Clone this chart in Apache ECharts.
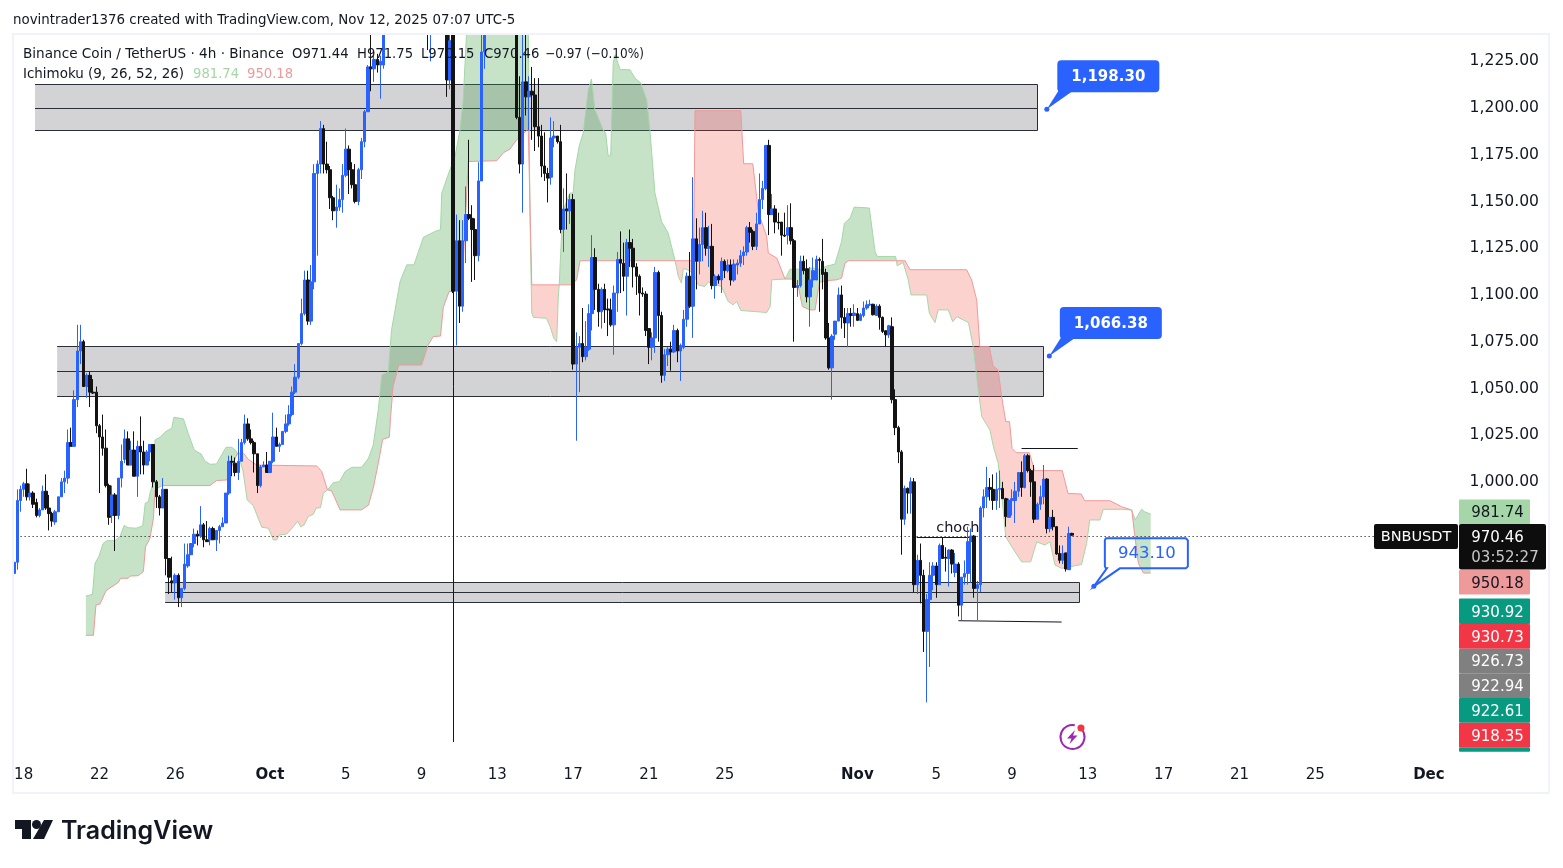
<!DOCTYPE html>
<html>
<head>
<meta charset="utf-8">
<title>BNBUSDT 4h</title>
<script src="https://cdn.jsdelivr.net/npm/echarts@6/dist/echarts.min.js"></script>
<style>
html, body { margin: 0; padding: 0; background: #fff; }
#chart { width: 1563px; height: 868px; }
</style>
</head>
<body>
<div id="chart"></div>
<script>
// candles, oldest first. bars 118-136 and 150-158 sit above the visible range
var opens = [
	950,956,989,995,998,991,993,988,981,984,
	994,985,982,977.5,983,991,999,1001,1020,1018,
	1043,1069,1074,1050,1056,1047,1047,1029,1023,1017,
	997,981,992,981,1001,1011,1022,1008,1016,1002,
	1018,1015,1008,1015,1019,999,991,985,995,958,
	946,945,949,937,942,954,960,966,971,970,
	976,968,968,974,968,973,975,977,993,1010,
	1009,1004,1010,1020,1030,1022,1020,1014,997,1007,
	1008,1004,1010,1023,1018,1019,1026,1030,1035,1047,
	1055,1073,1089,1107,1085,1106,1164,1169,1188,1169,
	1166,1151,1144,1146,1150,1163,1177,1166,1158,1149,
	1166,1181,1197,1221,1220,1225,1222,1222,1242,1262,
	1275,1284,1278,1295,1306,1299,1286,1292,1281,1268,
	1276,1265,1248,1266,1283,1298,1290,1270,1214,1240,
	1101,1128,1093,1128,1142,1140,1134,1120,1160,1229,
	1250,1268,1262,1272,1284,1276,1264,1273,1260,1250,
	1194,1169,1213,1205,1208,1206,1189,1184,1168,1164,
	1162,1183,1184,1181,1134,1145,1144,1150,1062,1071,
	1073,1066,1070,1089,1119,1102,1090,1102,1091.5,1091,
	1083,1100,1118,1116,1109,1127,1124,1114,1109,1100,
	1099.5,1081,1071,1076,1111,1088,1056,1067,1070,1068.5,
	1080,1069,1071,1086,1109,1093,1129,1117,1126,1135,
	1124,1125,1104,1109,1107,1117,1112,1115,1107,1115,
	1116,1120,1122,1135,1133,1125,1137,1150,1156,1179,
	1142,1145,1138,1138,1131,1131,1135,1128,1103,1104,
	1117,1113,1098,1107,1107,1118,1117,1111,1076,1060,
	1078,1085,1099,1087,1084,1089,1088,1089,1085.4,1088,
	1092,1093.7,1094,1088,1093,1087,1079.8,1077.7,1082,1043,
	1028,1015,979,995.5,993,999,944,957,949,919,
	936,949,954,944,965,958.6,958,962.5,950.5,955,
	933,948,950,967,970,942,944,985,991,996,
	995,989,995,995.5,990,980,989,989,994,1004,
	996,1013,1005,999,979,987,991,1000.5,974,980,
	975,960.7,957,961,952,971.44
];
var highs = [
	962,995,997,999,1006,998,994,990,985,997,
	1003,992,983,984,991,1001,1005,1027,1028,1048,
	1083,1083,1075,1057,1058,1054,1050,1030,1035,1027,
	998,997,993,1001,1019,1027,1026,1021,1026,1021,
	1034,1021,1016,1019,1019,1000,992,1001,995,958,
	959,950,950,942,966,966,966,974,973,986,
	977,978,975,975,973,976,980,993,1013,1013,
	1012,1022,1022,1035,1033,1027,1021,1014,1008,1010,
	1015,1010,1036,1028,1020,1026,1035,1040,1050,1062,
	1073,1097,1112,1112,1115,1169,1171,1192,1190,1181,
	1168,1152,1158,1156,1169,1188,1179,1170,1169,1167,
	1183,1198,1222,1241,1227,1228,1227,1250,1268,1281,
	1290,1296,1302,1312,1318,1310,1298,1304,1294,1284,
	1288,1280,1272,1290,1306,1318,1304,1282,1262,1262,
	1142,1139,1139,1157,1182,1147,1140,1170,1241,1260,
	1275,1285,1278,1290,1296,1288,1280,1286,1274,1265,
	1216,1239,1239,1216,1221,1215,1215,1190,1186,1167,
	1194,1192,1184,1190,1156,1164,1153,1153,1079,1077,
	1092,1085,1094,1131,1124,1105,1103,1105,1097,1097,
	1104,1122,1133,1127,1129,1134,1129,1116,1110,1103,
	1101,1081,1079,1114,1112,1090,1070,1071,1074,1083,
	1081,1073,1091,1111,1122,1162,1140,1135,1144,1143,
	1136,1137,1110,1110,1119,1118,1118,1118,1118,1118,
	1123,1125,1136,1138,1134,1143,1164,1160,1179,1182,
	1153,1147,1143,1138,1143,1147,1148,1129,1107,1120,
	1120,1118,1114,1119,1120,1119,1129,1113,1084,1078,
	1085,1103,1104,1092,1092,1092,1094,1092,1089.3,1095.5,
	1096,1096.4,1094.3,1094,1094,1087.5,1080,1083,1087,1048.5,
	1029,1016,997,996,1001.4,1001,960,966,952,939,
	956,956,956,966,969,964,963,963,961,956,
	948,957,975,974,970.5,946,986,995,1007,1001,
	1003,1004,1005,999,990.5,990,995,999,1004,1010,
	1014,1014,1006,1008,988,997,1008,1001,980,984,
	975.4,965,965,961,975,971.75
];
var lows = [
	946,952,983,991,989,989,985,980,980,984,
	984,973,975,976,983,991,993,998,1018,1018,
	1039,1062,1050,1044,1039,1046,1025,993,1013,996,
	976,977,962,979,996,1009,1008,1008,1002,991,
	1003,1003,1008,1010,996,985,981,985,949,939,
	940,936,932,932,941,953,960,964,965,969,
	964,967,965,968,962,966,975,977,992,1002,
	1002,1000,1010,1019,1021,1019,1004,993,996,1007,
	1004,1004,1009,1018,1015,1019,1025,1029,1034,1046,
	1054,1072,1088,1083,1083,1102,1120,1164,1164,1164,
	1145,1139,1135,1144,1143,1162,1153,1156,1148,1147,
	1161,1178,1197,1208,1213,1218,1204,1220,1241,1255,
	1268,1272,1270,1288,1292,1280,1270,1276,1262,1256,
	1262,1230,1224,1258,1275,1285,1262,1205,1209,1100,
	1072,1084,1090,1116,1139,1106,1107,1117,1160,1220,
	1243,1258,1250,1262,1268,1258,1250,1256,1243,1193,
	1164,1143,1195,1187,1182,1176,1178,1162,1160,1148.5,
	1158,1178,1180,1132,1122,1134,1137,1059,1021,1047,
	1063,1064,1069,1080,1091,1082,1081,1084,1077,1082,
	1067,1090,1100,1101,1088,1114,1103,1099,1088,1098,
	1077,1062,1064,1068,1074,1052,1053,1061,1058.5,1068,
	1063,1053,1070,1082,1092,1076,1102,1110,1117,1120,
	1114,1102,1097,1105,1100,1108,1111,1104,1106,1110,
	1114,1115,1120,1127,1123,1123,1137,1145,1155,1131,
	1142,1132,1134,1120,1130,1126,1126,1074,1098,1103,
	1110,1095,1082,1103,1107,1090,1102,1075,1059,1043,
	1075,1085,1081,1076,1071,1082,1082,1085,1085,1087,
	1091,1093,1088,1088,1080.4,1078.6,1071.4,1076,1041,1024,
	1009,960,976,982,982,940,939,934,908,881,
	900,941,937,944,958,951,943,950,948,927,
	925,944,944,945,937,925,940,980,985,989,
	984,984,985,990,975,980,981,977,991,991,
	995.5,1004,991,977,979,984,987,971.4,972,973,
	960,955.4,955,951,952,970.15
];
var closes = [
	956,989,995,998,991,993,987,981,984,994,
	985,982,978,983,991,999,1001,1020,1018,1043,
	1069,1074,1050,1056,1047,1046.5,1029,1023,1017,997,
	980,992,981,1001,1010,1022,1008,1016,1002,1018,
	1015,1008,1015,1019,999,991,985,995,958,948,
	945,949,937,942,955,960,966,971,970,976,
	968,967,974,968,973,975,977,993,1010,1009.5,
	1004,1010,1020,1030,1022,1020,1014,997,1007,1008,
	1004,1010,1023,1018,1019,1026,1030,1035,1047,1055,
	1073,1089,1107,1085,1106,1164,1169,1188,1169,1166,
	1151,1144,1146,1150,1163,1177,1166,1158,1149,1166,
	1181,1197,1221,1220,1225,1222,1224,1240,1262,1275,
	1284,1278,1295,1306,1299,1286,1292,1281,1268,1276,
	1265,1248,1266,1283,1298,1290,1270,1214,1235,1101,
	1128,1093,1128,1142,1140,1134,1120,1160,1229,1250,
	1268,1262,1272,1284,1276,1264,1273,1260,1250,1194,
	1169,1213,1205,1208,1206,1189,1184,1168,1164,1161.5,
	1183,1184,1181,1134,1145,1144,1150,1062,1071,1073,
	1066,1071,1089,1119,1102,1090,1102,1091,1091,1083,
	1100,1118,1116,1109,1127,1124,1114,1109,1100,1099.5,
	1080,1071,1076,1111,1088,1056,1067,1070,1068.5,1080,
	1069,1072,1086,1109,1093,1129,1117,1126,1135,1124,
	1125,1104,1109,1107,1117,1112,1115,1107,1115.5,1116,
	1120,1122,1135,1132.5,1125,1137,1150,1156,1179,1142,
	1145,1138,1137.5,1131,1130.5,1135,1128,1103,1104,1117,
	1112,1098,1107,1112,1118,1117.5,1110,1076,1060,1077,
	1085,1099,1087,1084,1089,1088,1089.3,1085.4,1088.4,1092,
	1093.7,1094,1088.4,1093,1087,1079.5,1077.7,1082.5,1043,1028,
	1015,979,995.5,993,999,944,957,949,919,936,
	949,954,944,965,958,958.2,962.5,955,955,933,
	948,950,967,970,942,944,985,991,996,995,
	989,995,995.5,990,980.4,989,990,994,1004,996,
	1013,1005,999,979,987,991,1000.5,974,980,975,
	960.4,957,960.7,952.4,971.4,970.46
];

// ichimoku span A and span B as [bar, price] vertices. the stretch of span A
// above the view (bars 144-162) is a guess
var senkouA = [
	[22.7,937.9],[24.8,938.8],[25.6,955.4],[26.8,959],[28.2,966.1],[29.3,967.5],[31.9,967.5],[33.5,969.7],[34.8,975.6],[36.1,974.5],
	[38.6,974.2],[40.7,975.4],[41.5,987.5],[42.5,988.4],[43,992.9],[44.1,999.1],[44.6,1021.4],[46.2,1022.9],[48,1025.9],[49.9,1027.7],
	[50.6,1033.6],[53.6,1032.7],[55.1,1025],[57,1016.1],[59.2,1013.9],[60.4,1010.2],[62,1008.4],[64.1,1008.6],[65.7,1013.4],[67.1,1017.5],
	[68.9,1017.5],[70.2,1015.7],[70.7,1014.3],[72.4,1005.4],[73.8,989.3],[75.7,986.3],[78.4,974.7],[80.5,974.2],[82.1,967.9],[83.1,967.9],
	[84,970.6],[86.3,971.1],[88.4,975],[89.8,978],[90.7,975],[91.8,975.9],[93.1,980.4],[94.7,981.6],[95.6,984.9],[97,985.2],
	[97.9,992.9],[99.2,994.7],[101.1,998.6],[103,999.1],[104.8,1004.5],[106.9,1006.8],[110,1006.8],[112.2,1011.6],[113.7,1018.8],[115.3,1037.5],
	[116.4,1056.2],[118.5,1058],[119,1069.6],[119.5,1080.3],[122.2,1106.2],[124.3,1115.1],[126.6,1115.1],[129.6,1129.9],[133.3,1133],[135,1133.9],
	[135.4,1153.5],[138,1166],[139.6,1173.1],[141.2,1187.4],[142.2,1203.4],[143.3,1240.9],[144.4,1285],[155,1310],[162,1290],[162.8,1240.9],
	[163.1,1187.5],[163.3,1144.6],[163.9,1089.3],[164.4,1087],[168.6,1086.5],[169.7,1082.1],[170.9,1075.8],[171.8,1074],[172.3,1098],[172.6,1104.4],
	[173.4,1133.9],[173.9,1144.6],[176,1153.5],[177,1153.5],[177.6,1166],[178.9,1178.5],[180.2,1185.6],[181.8,1208.8],[182.8,1214.5],[183.9,1198.1],
	[186.5,1187.4],[187.3,1185.6],[188.1,1173.5],[188.9,1173.5],[189.7,1223],[190.3,1227.5],[191.9,1219.5],[195,1219.5],[196.6,1215],[198.4,1212.4],
	[200.3,1203.4],[201.3,1187.4],[202.9,1153.5],[205,1138.3],[207.1,1132.1],[209.3,1117.3],[210.3,1108.9],[211.3,1105.3],[211.9,1113.3],[213.1,1112.5],
	[215.1,1110.7],[216.6,1104.4],[218.7,1103.5],[219.8,1105.9],[224,1103.5],[226.1,1095.5],[227.7,1093.7],[228.8,1095.5],[230.1,1090.7],[238.3,1089.6],
	[239.4,1092.8],[239.9,1107.1],[244.1,1107.5],[245.7,1112.8],[248.3,1112.8],[253,1113.4],[255.2,1112.5],[257,1114.3],[259.9,1115.5],[262,1127.6],
	[262.9,1137.4],[264.7,1140.1],[266,1146],[270.8,1145.5],[272.6,1122.3],[273.3,1119.6],[279.1,1119.6],[279.4,1117.3],[279.6,1114.6],[281.5,1116.4],
	[283.1,1107.1],[284,1099],[289,1099],[289.8,1089.2],[291.6,1084.2],[292.6,1091],[295.8,1091],[297.2,1084.7],[298.5,1087.4],[302.2,1084.2],
	[303.7,1071.3],[305.3,1048.1],[306.4,1033.9],[309,1026.7],[310.1,1017.8],[311.6,1008.9],[312.7,992.8],[314,969.6],[315.9,964.3],[319,956.2],
	[321.9,956.2],[323.8,966.9],[326.4,965.2],[328,966.9],[329.6,954.5],[331.7,952.7],[338,954.8],[339.6,966.1],[340.6,978.6],[343.8,978.6],
	[344.9,984.3],[350.7,984.3],[353.9,983.9],[355,978.6],[357,984.3],[358,983],[359.9,981.74]
];
var senkouB = [
	[22.7,916.9],[25.1,916.9],[25.9,933.1],[27.2,933.7],[29.1,940.8],[33,945.2],[33.7,947.4],[36.1,947.4],[36.7,948.6],[39.3,948.8],
	[40.9,951],[41.6,964.3],[43,968.8],[44.1,979.5],[44.6,994.7],[46.7,997],[62,997],[64.1,999.7],[67.3,1000],[68.9,1007.2],
	[70.7,1014.3],[72.6,1014.3],[74.1,1011.1],[76.8,1008],[95.8,1007.5],[97.4,1004.5],[99.2,994.7],[100.5,994.3],[103.2,984],[110,984],
	[112.2,986.6],[113.7,995.6],[115.3,1008.9],[116.7,1021.8],[118.8,1022.9],[119.2,1033.9],[120,1050],[121.8,1061.5],[129,1061.5],[131.1,1072.3],
	[132.7,1076.7],[135,1077],[135.9,1092.4],[137.7,1100.8],[139.6,1101.2],[142.2,1116],[143.8,1170.4],[152.8,1170.8],[155,1175.2],[157,1177],
	[159.1,1182],[162.8,1187.7],[163.1,1187.5],[163.9,1104.4],[172.6,1104.4],[176.5,1104.4],[178.1,1107.1],[179.2,1117.3],[209.3,1117.3],[215.1,1117.3],
	[215.4,1161.5],[215.6,1197.6],[230.1,1197.6],[231,1169.2],[233.9,1169.2],[235.7,1142.8],[238.3,1130.3],[238.8,1121.4],[241.5,1118.7],[244.1,1107.5],
	[246.7,1107.5],[248.3,1103.6],[249.6,1092.8],[252,1091],[253.6,1091],[255,1105.7],[257,1106.6],[260.5,1107.1],[262,1108],[263.1,1116],
	[264.1,1117.3],[279.4,1117.3],[282.1,1117.3],[283.7,1112.5],[301.6,1112.5],[303.2,1107],[304.8,1096.3],[305.8,1071.3],[308.8,1071.3],[310,1061],
	[311.6,1058.8],[312.7,1044.6],[314,1031.2],[315.2,1031.2],[316,1016.9],[317.3,1014.6],[321.5,1014.6],[323.1,1005],[331.9,1005],[333.7,992.8],
	[337.9,992.5],[339,988.9],[347,988.9],[350.7,985.7],[353.9,983.9],[354.9,969.6],[356,955.4],[357.6,950.18],[359.9,950.18]
];
// bullish = span A on top
var kumoRuns = [
	[22.7,70.7,'up'],[70.7,99.2,'down'],[99.2,163.1,'up'],[163.1,172.6,'down'],[172.6,209.3,'up'],
	[209.3,244.1,'down'],[244.1,279.4,'up'],[279.4,353.9,'down'],[353.9,359.9,'up']
];

// drawn boxes: first bar, last bar, top, middle, bottom
var zoneStart = [6.6, 13.6, 47.8];
var zoneEnd = [324.2, 325.8, 337.2];
var zoneTop = [1211.5, 1071.2, 945.4];
var zoneMid = [1199, 1057.8, 940];
var zoneBottom = [1186.8, 1044.4, 934.2];

// drawn lines: bar, price, bar, price
var drawnLines = [
	[139.07,1240,139.07,859.8],
	[285.8,969.3,304.2,969.3],
	[319,1017,336.8,1017],
	[299,924.7,331.7,924]
];
var lastLine = [[-0.5,969.77],[431,969.77]];

var calloutBars = [327, 327.8, 341.9];
var calloutPrices = [1198.30, 1066.38, 943.10];
var calloutTexts = ['1,198.30', '1,066.38', '943.10'];
var textNotes = [[298.8, 974.3, 'choch']];

var tickBars = [3,27,51,81,105,129,153,177,201,225,267,292,316,340,364,388,412,448];
var tickLabels = ['18','22','26','Oct','5','9','13','17','21','25','Nov','5','9','13','17','21','25','Dec'];

var tagValues = ['981.74','950.18','930.92','930.73','926.73','922.94','922.61','918.35'];
var tagColors = ['#A5D6A7','#EF9A9A','#089981','#F23645','#808080','#808080','#089981','#F23645'];
var tagInk = ['#131722','#131722','#fff','#fff','#fff','#fff','#fff','#fff'];
var tagTops = [499.5,570,598.5,624,648.7,673.3,698,722.7];
var tagHeights = [25,24.5,25.5,24.7,24.6,24.7,24.7,25];

var FONT = '"DejaVu Sans", sans-serif';
var INK = '#131722';
var BLUE = '#2962FF';

var barSlots = [];
for (var n = 0; n < 456; n++) barSlots.push(String(n));

function snap(v) {
	return Math.round(v - 0.5) + 0.5;
}

function renderZone(params, api) {
	var i = params.dataIndex;
	var tl = api.coord([zoneStart[i], zoneTop[i]]);
	var br = api.coord([zoneEnd[i], zoneBottom[i]]);
	var my = snap(api.coord([zoneStart[i], zoneMid[i]])[1]);
	var top = snap(tl[1]), bottom = snap(br[1]), right = snap(br[0]);
	var line = {stroke: '#2a2e39', lineWidth: 1};
	return {
		type: 'group',
		children: [
			{type: 'rect', shape: {x: tl[0], y: top, width: right - tl[0], height: bottom - top}, style: {fill: '#d3d3d6'}},
			{type: 'line', shape: {x1: tl[0], y1: top, x2: right, y2: top}, style: line},
			{type: 'line', shape: {x1: tl[0], y1: my, x2: right, y2: my}, style: line},
			{type: 'line', shape: {x1: tl[0], y1: bottom, x2: right, y2: bottom}, style: line},
			{type: 'line', shape: {x1: right, y1: top, x2: right, y2: bottom}, style: line}
		]
	};
}

function renderKumo(params, api) {
	var run = kumoRuns[params.dataIndex];
	var inRun = function (p) { return p[0] >= run[0] && p[0] <= run[1]; };
	var pts = senkouA.filter(inRun).concat(senkouB.filter(inRun).reverse()).map(function (p) {
		return api.coord(p);
	});
	return {
		type: 'polygon',
		shape: {points: pts},
		style: {fill: run[2] === 'up' ? 'rgba(67,160,71,0.3)' : 'rgba(244,67,54,0.24)'}
	};
}

function renderDrawnLine(params, api) {
	var l = drawnLines[params.dataIndex];
	var a = api.coord([l[0], l[1]]);
	var b = api.coord([l[2], l[3]]);
	var x1 = l[0] === l[2] ? snap(a[0]) : a[0];
	var x2 = l[0] === l[2] ? snap(b[0]) : b[0];
	var y1 = l[1] === l[3] ? snap(a[1]) : a[1];
	var y2 = l[1] === l[3] ? snap(b[1]) : b[1];
	return {type: 'line', shape: {x1: x1, y1: y1, x2: x2, y2: y2}, style: {stroke: '#131722', lineWidth: 1}};
}

function renderNote(params, api) {
	var t = textNotes[params.dataIndex];
	var c = api.coord([t[0], t[1]]);
	return {type: 'text', style: {x: c[0], y: c[1], text: t[2], font: '14.5px ' + FONT, fill: INK, align: 'center', verticalAlign: 'middle'}};
}

function renderCallout(params, api) {
	var i = params.dataIndex;
	var c = api.coord([calloutBars[i], calloutPrices[i]]);
	var x = c[0], y = c[1];
	var dot = {type: 'circle', shape: {cx: x, cy: y, r: 2.5}, style: {fill: BLUE}};
	if (i < 2) {
		return {type: 'group', children: [
			{type: 'polygon', shape: {points: [[x + 12, y - 19], [x + 27, y - 19], [x, y]]}, style: {fill: BLUE}},
			{type: 'rect', shape: {x: x + 10.5, y: y - 49, width: 102, height: 32, r: 4}, style: {fill: BLUE}},
			dot,
			{type: 'text', style: {x: x + 61.5, y: y - 32, text: calloutTexts[i], font: 'bold 15px ' + FONT, fill: '#fff', align: 'center', verticalAlign: 'middle'}}
		]};
	}
	return {type: 'group', children: [
		{type: 'polygon', shape: {points: [
			[x + 12, y - 48], [x + 92, y - 48], [x + 94, y - 46], [x + 94, y - 20], [x + 92, y - 18],
			[x + 26, y - 18], [x, y], [x + 13, y - 18], [x + 12, y - 18], [x + 11, y - 20], [x + 11, y - 46]
		]}, style: {fill: 'none', stroke: BLUE, lineWidth: 2}},
		dot,
		{type: 'text', style: {x: x + 53, y: y - 33, text: calloutTexts[i], font: '16.5px ' + FONT, fill: BLUE, align: 'center', verticalAlign: 'middle'}}
	]};
}

function indexList(arr) {
	return arr.map(function (v, i) { return [i, 0]; });
}

function overlay(renderItem, source, z, clip) {
	return {
		type: 'custom',
		xAxisIndex: 1,
		renderItem: renderItem,
		data: indexList(source),
		clip: clip,
		silent: true,
		z: z
	};
}

function tags() {
	var out = [];
	tagValues.forEach(function (v, i) {
		out.push({type: 'rect', z: 110, shape: {x: 1459, y: tagTops[i], width: 71, height: tagHeights[i], r: 1}, style: {fill: tagColors[i]}});
		out.push(label(1497.5, tagTops[i] + tagHeights[i] / 2 + 0.2, v, '15px ' + FONT, tagInk[i], 'center'));
	});
	return out;
}

function label(x, y, text, font, fill, align) {
	return {type: 'text', z: 111, style: {x: x, y: y + 1.3, text: text, font: font, fill: fill || INK, align: align || 'left', verticalAlign: 'middle'}};
}

var legendFont = '13.2px ' + FONT;

var graphics = [
	{type: 'rect', z: 90, shape: {x: 0, y: 0, width: 1563, height: 33}, style: {fill: '#fff'}},
	{type: 'rect', z: 95, shape: {x: 13, y: 34, width: 1536, height: 759}, style: {fill: 'none', stroke: '#f0f3fa', lineWidth: 2}},
	label(13, 19, 'novintrader1376 created with TradingView.com, Nov 12, 2025 07:07 UTC-5', '13.4px ' + FONT),
	label(23, 53, 'Binance Coin / TetherUS · 4h · Binance', '13.6px ' + FONT),
	label(292, 53, 'O971.44', legendFont),
	label(357, 53, 'H971.75', legendFont),
	label(421, 53, 'L970.15', legendFont),
	label(484, 53, 'C970.46', legendFont),
	Object.assign(label(545, 53, '−0.97 (−0.10%)', legendFont), {scaleX: 0.917, originX: 545}),
	label(23, 73.5, 'Ichimoku (9, 26, 52, 26)', '13.45px ' + FONT),
	label(193, 73.5, '981.74', legendFont, '#A5D6A7'),
	label(247, 73.5, '950.18', legendFont, '#EF9A9A')
].concat(tags()).concat([
	{type: 'rect', z: 110, shape: {x: 1459, y: 747.7, width: 71, height: 4, r: 1}, style: {fill: '#089981'}},
	{type: 'rect', z: 112, shape: {x: 1374, y: 524, width: 84, height: 25, r: 2}, style: {fill: '#0d0d0d'}},
	{type: 'rect', z: 112, shape: {x: 1459, y: 524, width: 87, height: 45.5, r: 2}, style: {fill: '#0d0d0d'}},
	Object.assign(label(1416, 536, 'BNBUSDT', '14.5px ' + FONT, '#fff', 'center'), {z: 113}),
	Object.assign(label(1497.5, 536.5, '970.46', '15px ' + FONT, '#fff', 'center'), {z: 113}),
	Object.assign(label(1505, 556.5, '03:52:27', '15px ' + FONT, '#c8c8c8', 'center'), {z: 113}),
	// purple bolt badge
	{type: 'arc', z: 110, shape: {cx: 1072.5, cy: 737, r: 12, startAngle: -1.1, endAngle: 4.9}, style: {stroke: '#9C27B0', lineWidth: 2, fill: 'none'}},
	{type: 'polygon', z: 110, shape: {points: [[1075, 730], [1067, 738.5], [1071.5, 738.5], [1069.5, 744], [1077.5, 735.5], [1073, 735.5]]}, style: {fill: '#9C27B0'}},
	{type: 'circle', z: 110, shape: {cx: 1081, cy: 728, r: 3.5}, style: {fill: '#F23645'}},
	// TradingView logo
	{type: 'polygon', z: 110, shape: {points: [[15, 820], [31, 820], [31, 839], [22, 839], [22, 829], [15, 829]]}, style: {fill: '#131722'}},
	{type: 'circle', z: 110, shape: {cx: 36.5, cy: 824.5, r: 4.5}, style: {fill: '#131722'}},
	{type: 'polygon', z: 110, shape: {points: [[44, 820], [53, 820], [44, 839], [33, 839]]}, style: {fill: '#131722'}},
	label(61, 830.5, 'TradingView', '600 25px Inter, sans-serif')
]);

var myChart = echarts.init(document.getElementById('chart'), null, {renderer: 'canvas'});

var option = {
	animation: false,
	backgroundColor: '#fff',
	grid: {left: 12.6, top: 31.4, width: 1440, height: 728.95, containLabel: false},
	xAxis: [{
		type: 'category',
		data: barSlots,
		boundaryGap: true,
		axisLine: {show: false},
		axisTick: {show: false},
		splitLine: {show: false},
		axisLabel: {
			margin: 7,
			hideOverlap: false,
			interval: function (index) { return tickBars.indexOf(index) >= 0; },
			formatter: function (value, index) {
				var t = tickLabels[tickBars.indexOf(Number(value))];
				return /^[A-Z]/.test(t) ? '{m|' + t + '}' : t;
			},
			fontFamily: FONT,
			fontSize: 15,
			color: INK,
			rich: {m: {fontFamily: FONT, fontSize: 15, fontWeight: 'bold', color: INK}}
		}
	}, {
		type: 'value',
		min: -0.5,
		max: 455.5,
		show: false,
		splitLine: {show: false}
	}],
	yAxis: {
		type: 'value',
		position: 'right',
		min: 850,
		max: 1240,
		interval: 25,
		scale: true,
		axisLine: {show: false},
		axisTick: {show: false},
		splitLine: {show: false},
		axisLabel: {
			margin: 17,
			showMaxLabel: false,
			fontFamily: FONT,
			fontSize: 15.6,
			color: INK,
			formatter: function (v) {
				if (v < 1000 || v > 1225) return '';
				return '{p|' + String(Math.floor(v / 1000)) + ',' + String(v % 1000).padStart(3, '0') + '.00}';
			},
			rich: {p: {fontFamily: FONT, fontSize: 15.6, color: INK, padding: [4, 0, 0, 0]}}
		}
	},
	series: [
		overlay(renderZone, zoneStart, 1, false),
		overlay(renderKumo, kumoRuns, 2, true),
		{
			type: 'line', xAxisIndex: 1, data: senkouA, showSymbol: false, silent: true, z: 3,
			lineStyle: {color: '#A5D6A7', width: 1}
		},
		{
			type: 'line', xAxisIndex: 1, data: senkouB, showSymbol: false, silent: true, z: 3,
			lineStyle: {color: '#EF9A9A', width: 1}
		},
		{
			type: 'line', xAxisIndex: 1, data: lastLine, showSymbol: false, silent: true, z: 3,
			lineStyle: {color: '#000', width: 1, type: [1, 3]}
		},
		overlay(renderDrawnLine, drawnLines, 4, false),
		overlay(renderNote, textNotes, 4, false),
		{
			type: 'candlestick',
			xAxisIndex: 0,
			barWidth: 3,
			silent: true,
			z: 5,
			data: opens.map(function (o, i) { return [o, closes[i], lows[i], highs[i]]; }),
			itemStyle: {color: BLUE, color0: '#131313', borderColor: BLUE, borderColor0: '#131313', borderWidth: 1}
		},
		overlay(renderCallout, calloutBars, 6, false)
	],
	graphic: {elements: graphics}
};
myChart.setOption(option);
</script>
</body>
</html>
